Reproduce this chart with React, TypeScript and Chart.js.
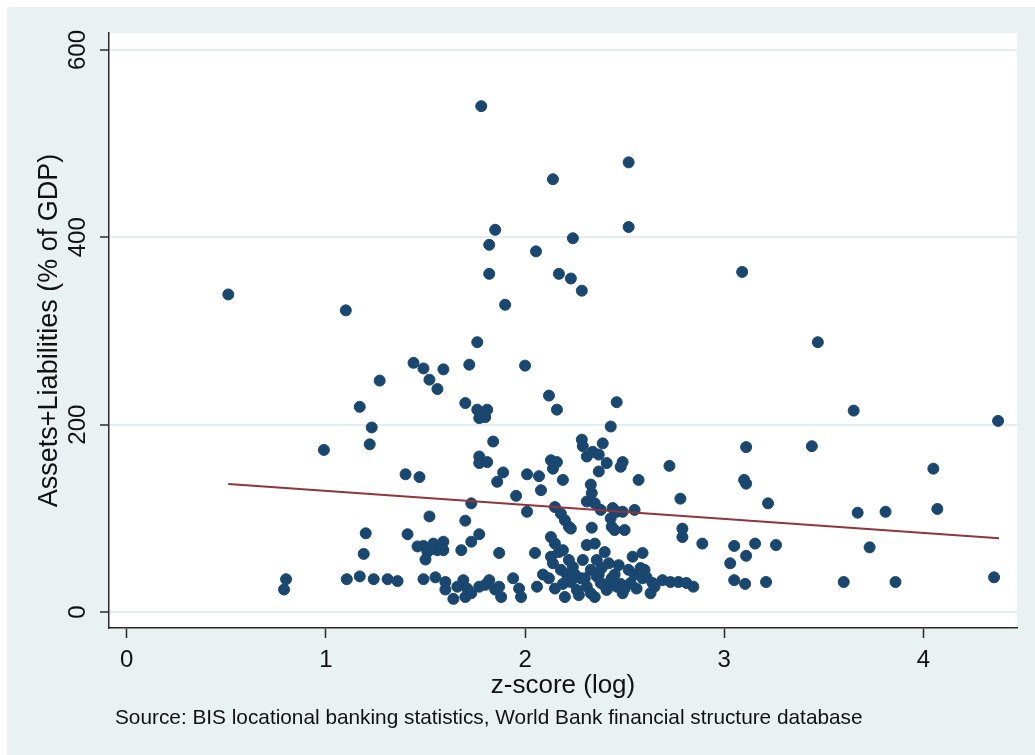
import React, { useEffect, useRef } from 'react';
import { Chart, registerables } from 'chart.js';

Chart.register(...registerables);

// z-score (log) of each country/bank-system observation
const zScoreLog = [
  0.51, 0.79, 0.80, 0.99, 1.10, 1.105, 1.17, 1.17, 1.19, 1.20,
  1.22, 1.23, 1.24, 1.27, 1.31, 1.36, 1.40, 1.41, 1.44, 1.47,
  1.46, 1.49, 1.49, 1.49, 1.52, 1.52, 1.50, 1.51, 1.54, 1.56,
  1.59, 1.59, 1.56, 1.59, 1.55, 1.60, 1.60, 1.64, 1.66, 1.69,
  1.71, 1.70, 1.73, 1.77, 1.80, 1.82, 1.85, 1.87, 1.88, 1.94,
  1.97, 1.98, 1.68, 1.73, 1.70, 1.73, 1.77, 1.87, 1.72, 1.70,
  1.76, 1.81, 1.77, 1.80, 1.76, 1.84, 1.77, 1.81, 1.77, 1.89,
  1.86, 1.955, 2.01, 2.01, 2.00, 1.78, 2.52, 2.14, 2.52, 1.85,
  1.82, 2.24, 2.055, 1.82, 2.17, 2.23, 2.285, 1.90, 3.09, 3.47,
  3.65, 2.12, 2.16, 2.46, 2.43, 2.285, 2.39, 2.29, 2.34, 2.31,
  2.37, 2.13, 2.16, 2.41, 2.49, 2.48, 2.14, 3.11, 3.44, 2.725,
  2.37, 2.19, 2.07, 2.08, 2.57, 3.10, 3.11, 3.22, 2.78, 2.33,
  2.335, 2.31, 2.35, 2.38, 2.44, 2.46, 2.49, 2.55, 2.15, 2.18,
  2.20, 2.22, 2.23, 2.335, 2.43, 2.435, 2.45, 2.50, 2.79, 2.79,
  2.89, 3.05, 3.155, 3.26, 3.11, 3.03, 3.05, 3.105, 3.21, 2.05,
  2.13, 2.15, 2.17, 2.13, 2.19, 2.22, 2.14, 2.12, 2.18, 2.31,
  2.35, 2.40, 2.29, 2.36, 2.42, 2.33, 2.385, 2.54, 2.59, 2.58,
  2.60, 2.06, 2.20, 2.23, 2.26, 2.28, 2.31, 2.35, 2.38, 2.41,
  2.435, 2.46, 2.49, 2.53, 2.56, 2.59, 2.63, 2.64, 2.69, 2.73,
  2.77, 2.81, 2.845, 4.05, 4.375, 3.81, 3.67, 4.07, 3.73, 3.60,
  3.86, 4.355, 2.15, 2.19, 2.25, 2.09, 2.37, 2.45, 2.52, 2.30,
  2.33, 2.40, 2.27, 2.61, 2.65, 2.48, 2.50, 2.21, 2.24, 2.36,
  2.43, 2.47, 2.55, 1.58, 1.53
];

// Assets + liabilities, % of GDP
const assetsLiabilities = [
  339, 24, 35, 173, 322, 35, 38, 219, 62, 84,
  179, 197, 35, 247, 35, 33, 147, 83, 266, 144,
  70, 70.5, 35, 260, 248, 102, 56, 64, 73, 66,
  75, 66, 238, 259, 37, 32, 24, 14, 27, 34,
  25, 16, 20, 27, 29, 34, 24, 27, 16, 36,
  25, 16, 66, 75, 97.5, 116, 83, 63, 264, 223,
  216, 216, 207, 208, 288, 182, 166, 160, 159, 149,
  139, 124, 147, 107, 263, 540, 480, 462, 411, 408,
  392, 399, 385, 361, 361, 356, 343, 328, 363, 288,
  215, 231, 216, 224, 198, 184, 180, 177, 171, 166,
  168, 162, 160, 159, 160, 155, 153, 176, 177, 156,
  150, 141, 145, 130, 141, 141, 137, 116, 121, 136,
  127, 118, 116, 109, 111, 107, 107, 109, 112, 105,
  98, 91, 89, 90, 100, 91, 87.5, 87.5, 89, 80,
  73, 70.5, 73, 71.5, 60, 52, 34, 30, 32, 63,
  80, 73, 64, 59, 66, 55.5, 52, 36, 45, 71.5,
  73, 64, 55.5, 55.5, 52, 45, 47, 59, 63, 47,
  45, 27, 16, 32, 23.5, 36, 27, 16, 31, 23.5,
  36, 27, 20, 31, 25, 36, 20, 31, 34, 32,
  32, 31, 27, 153, 204, 107, 106, 110, 69, 32,
  32, 37, 25, 30, 40, 40, 40, 40, 45, 36,
  20, 28, 18, 37, 27, 30, 25, 40, 48, 38,
  33, 50, 40, 70, 67
];

// Fitted values (linear fit) at the ends of the data range
const fitX = [0.51, 4.38];
const fitY = [136.6, 78.7];

const xTickValues = [0, 1, 2, 3, 4];
const yTickValues = [0, 200, 400, 600];

const xTitle = 'z-score (log)';
const yTitle = 'Assets+Liabilities (% of GDP)';
const sourceNote =
  'Source: BIS locational banking statistics, World Bank financial structure database';

const FONT = '"Liberation Sans", Arial, Helvetica, sans-serif';
const TEXT = '#111111';
const AXIS = '#2b2b2b';

export default function App() {
  const canvasRef = useRef<HTMLCanvasElement | null>(null);

  useEffect(() => {
    if (!canvasRef.current) return;
    Chart.defaults.font.family = FONT;

    const framePlugin = {
      id: 'frame',
      beforeDraw(chart: any) {
        const { ctx, chartArea: a } = chart;
        ctx.save();
        ctx.fillStyle = '#ffffff';
        ctx.fillRect(a.left, a.top, a.right - a.left, a.bottom - a.top);
        ctx.restore();
      },
      afterDraw(chart: any) {
        const { ctx, chartArea: a } = chart;
        ctx.save();
        ctx.font = `20.8px ${FONT}`;
        ctx.fillStyle = TEXT;
        ctx.textAlign = 'left';
        ctx.textBaseline = 'middle';
        ctx.fillText(sourceNote, a.left + 6, chart.height - 37);
        ctx.restore();
      },
    };

    const points = zScoreLog.map((x, i) => ({ x, y: assetsLiabilities[i] }));
    const fitLine = fitX.map((x, i) => ({ x, y: fitY[i] }));

    const chart = new Chart(canvasRef.current, {
      type: 'scatter',
      data: {
        datasets: [
          {
            label: 'Fitted values',
            data: fitLine,
            showLine: true,
            borderColor: '#90353b',
            borderWidth: 2,
            pointRadius: 0,
            fill: false,
          },
          {
            label: 'Assets+Liabilities',
            data: points,
            pointRadius: 5.5,
            pointBackgroundColor: '#1a476f',
            pointBorderColor: '#1a476f',
            pointBorderWidth: 1,
            showLine: false,
          },
        ],
      },
      options: {
        animation: false,
        responsive: false,
        events: [],
        layout: { padding: { top: 26, right: 18, bottom: 51, left: 0 } },
        plugins: {
          legend: { display: false },
          tooltip: { enabled: false },
          title: { display: false },
        },
        scales: {
          x: {
            type: 'linear',
            min: -0.089,
            max: 4.47,
            afterBuildTicks: (s: any) => {
              s.ticks = xTickValues.map((v) => ({ value: v }));
            },
            afterFit: (s: any) => {
              s.height = 76;
            },
            ticks: {
              font: { size: 24, family: FONT },
              color: TEXT,
              padding: 7.6,
              maxRotation: 0,
              minRotation: 0,
              callback: (v: any) => String(v),
            },
            grid: {
              drawOnChartArea: false,
              drawTicks: true,
              tickLength: 10,
              tickColor: AXIS,
              tickWidth: 1.5,
            },
            border: { display: true, color: AXIS, width: 1.5 },
            title: {
              display: true,
              text: xTitle,
              color: TEXT,
              font: { size: 26, family: FONT },
              padding: { top: 0, bottom: 2.4 },
            },
          },
          y: {
            type: 'linear',
            min: -17.1,
            max: 618.1,
            afterBuildTicks: (s: any) => {
              s.ticks = yTickValues.map((v) => ({ value: v }));
            },
            afterFit: (s: any) => {
              s.width = 102;
            },
            ticks: {
              font: { size: 24, family: FONT },
              color: TEXT,
              padding: 2,
              minRotation: 90,
              maxRotation: 90,
              crossAlign: 'center',
              callback: (v: any) => String(v),
            },
            grid: {
              color: '#e4ecef',
              lineWidth: 2,
              drawTicks: true,
              tickLength: 9,
              tickColor: AXIS,
              tickWidth: 1.5,
            },
            border: { display: true, color: AXIS, width: 1.5 },
            title: {
              display: true,
              text: yTitle,
              color: TEXT,
              font: { size: 27, family: FONT },
              padding: { top: 26.8, bottom: 0 },
            },
          },
        },
      },
      plugins: [framePlugin],
    } as any);

    return () => chart.destroy();
  }, []);

  return (
    <div
      style={{
        position: 'absolute',
        left: 7,
        top: 7,
        width: 1028,
        height: 748,
        background: '#e9f1f3',
      }}
    >
      <canvas ref={canvasRef} width={1028} height={748} style={{ display: 'block' }} />
    </div>
  );
}
